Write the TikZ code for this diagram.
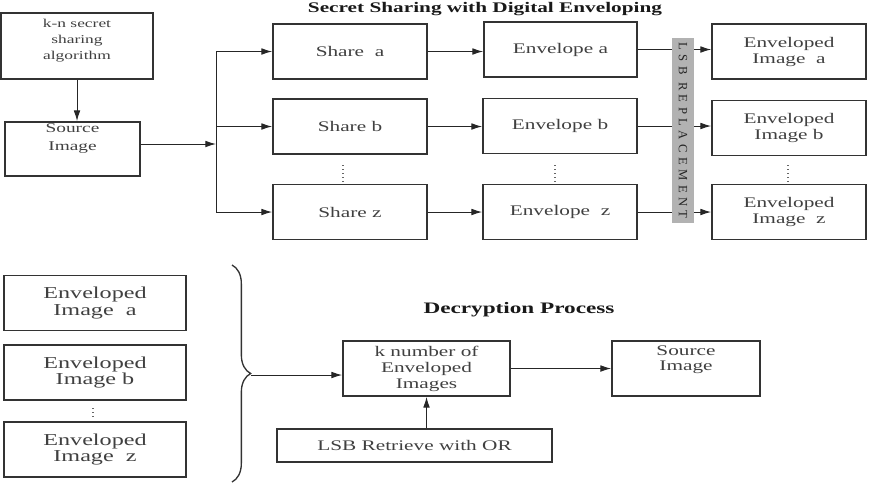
\documentclass[tikz,border=0pt]{standalone}
\usepackage{fontspec}
\setmainfont{Liberation Serif}[FakeStretch=1.45]
\newfontfamily\barfont{Liberation Serif}[LetterSpace=35]
\usetikzlibrary{arrows.meta,decorations.pathreplacing}

\tikzset{every picture/.style={line width=0.75pt}}
\tikzset{
  blk/.style={draw=black!80, line width=1.3pt, fill=white, inner sep=0pt, align=center,
    text=black!75, font=\fontsize{11}{12}\selectfont},
  wide/.style={minimum width=115.5pt, minimum height=41.25pt},
  lowbox/.style={minimum width=136.5pt, minimum height=41.25pt, font=\fontsize{12.5}{12.5}\selectfont},
  txt/.style={inner sep=0pt, align=center, text=black!75},
  ttl/.style={inner sep=0pt, text=black!90, font=\fontsize{11}{12}\bfseries},
  arr/.style={draw=black!85, -{Latex[length=8pt,width=5pt]}},
  dots/.style={draw=black!60, dotted, line width=1pt},
}

\begin{document}
\begin{tikzpicture}[x=0.75pt,y=0.75pt,yscale=-1,xscale=1]
\useasboundingbox (0,0) rectangle (873,482);

% Titles
\node[ttl] (ttlenc) at (485,9) {Secret Sharing with Digital Enveloping};
\node[ttl, font=\fontsize{12}{12}\bfseries] (ttldec) at (519,310) {Decryption Process};

%Shape: Rectangle (algorithm)
\node[blk, minimum width=114pt, minimum height=49.5pt] (alg) at (77,46) {};
\node[txt, font=\fontsize{9}{12}\selectfont] (algtxt) at (77,41) {k-n secret\\sharing\\algorithm};
%Shape: Rectangle (source image)
\node[blk, minimum width=101.25pt, minimum height=40.5pt] (srca) at (72.5,149) {};
\node[txt, font=\fontsize{10}{13.5}\selectfont] (srcatxt) at (72.5,139) {Source\\Image};

%Shape: Rectangle (shares)
\node[blk, wide] (sha) at (350,51.5) {Share~~a};
\node[blk, wide] (shb) at (350,126.5) {Share b};
\node[blk, wide] (shz) at (350,212) {Share z};
%Shape: Rectangle (envelopes)
\node[blk, wide, minimum width=114.75pt] (enva) at (560.5,49.5) {Envelope a};
\node[blk, wide] (envb) at (560,126) {Envelope b};
\node[blk, wide] (envz) at (560,212) {Envelope~~z};
%Shape: Rectangle (enveloped images)
\node[blk, wide] (imga) at (789,51.5) {Enveloped\\Image~~a};
\node[blk, wide] (imgb) at (789,128) {Enveloped\\Image b};
\node[blk, wide] (imgz) at (789,212) {Enveloped\\Image~~z};

%Straight Lines
\draw[arr] (alg.south) -- (alg.south |- srca.north);
\coordinate (bus) at (216,144);
\draw[arr] (srca.east |- bus) -- (bus);
\draw[draw=black!85] (bus |- sha.west) -- (bus |- shz.west);
\foreach \s in {sha,shb,shz}
  \draw[arr] (bus |- \s.west) -- (\s.west);
\foreach \s/\e in {sha/enva,shb/envb,shz/envz}
  \draw[arr] (\s.east) -- (\s.east -| \e.west);
\foreach \e/\i in {enva/imga,envb/imgb,envz/imgz}
  \draw[arr] (\e.east) -- (\e.east -| \i.west);

% LSB bar
\node[fill=black!30, inner sep=0pt, minimum width=138.75pt, minimum height=16.5pt, rotate=-90,
  text=black!85, font=\barfont\fontsize{9.5}{10}\selectfont] (lsbbar) at (683,130.5) {LSB REPLACEMENT};

% dotted gaps
\draw[dots] (343,165) -- (343,183);
\draw[dots] (555,165) -- (555,183);
\draw[dots] (788,165) -- (788,183);

%Shape: Rectangle (received images)
\node[blk, lowbox] (rima) at (95,303) {Enveloped\\Image~~a};
\node[blk, lowbox] (rimb) at (95,372.5) {Enveloped\\Image b};
\node[blk, lowbox] (rimz) at (95,449.5) {Enveloped\\Image~~z};
\draw[dots] (93,408) -- (93,417);

% brace
\draw[draw=black!80, line width=1pt, decorate, decoration={brace, amplitude=14pt}] (232,265) -- (232,482);
\coordinate (brtip) at (251,375);

%Shape: Rectangle (decryption)
\node[blk, minimum width=125.25pt, minimum height=41.25pt] (knum) at (426.5,368.5) {k number of\\Enveloped\\Images};
\node[blk, minimum width=111pt, minimum height=41.25pt] (srcb) at (686,368.5) {};
\node[txt, font=\fontsize{11}{11.5}\selectfont] (srcbtxt) at (686,360) {Source\\Image};
\node[blk, minimum width=206.25pt, minimum height=24.75pt] (lsbret) at (414.5,445.5) {LSB Retrieve with OR};

\draw[arr] (brtip) -- (brtip -| knum.west);
\draw[arr] (knum.east) -- (srcb.west);
\draw[arr] (knum.south |- lsbret.north) -- (knum.south);
\end{tikzpicture}
\end{document}
